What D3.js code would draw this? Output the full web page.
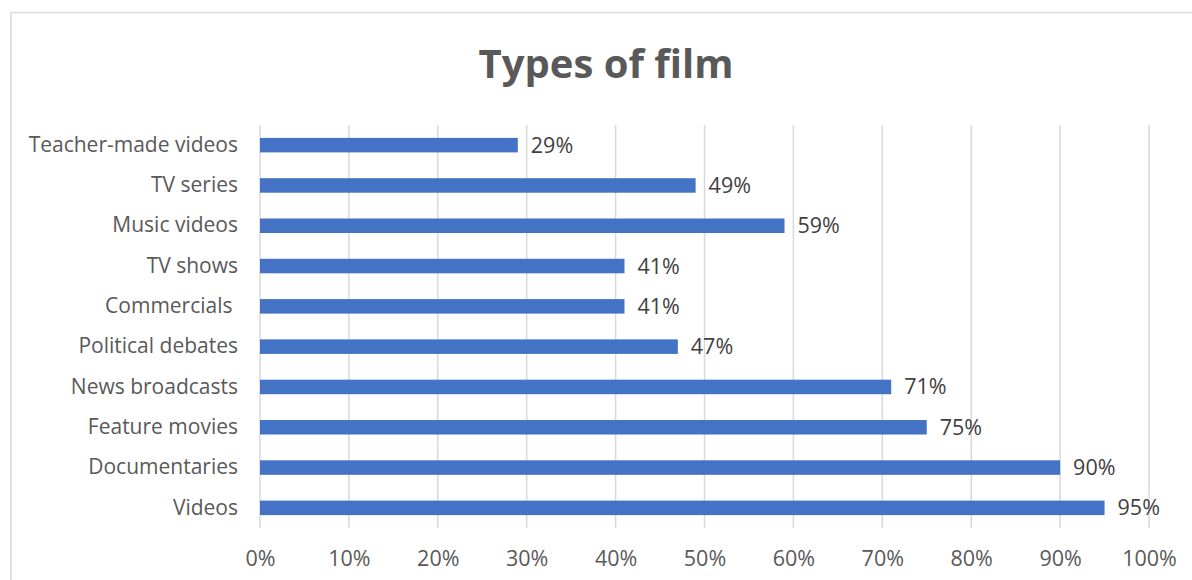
<!DOCTYPE html>
<html><head><meta charset="utf-8">
<script src="https://cdn.jsdelivr.net/npm/d3@7"></script>
<style>body{margin:0;background:#fff}svg{display:block}text{font-family:"Open Sans",sans-serif}</style>
</head><body>
<svg id="c" width="1192" height="580"></svg>
<script>
const categories = ["Teacher-made videos","TV series","Music videos","TV shows","Commercials ","Political debates","News broadcasts","Feature movies","Documentaries","Videos"];
const values = [29,49,59,41,41,47,71,75,90,95];
const tickValues = [0,10,20,30,40,50,60,70,80,90,100];
const title = "Types of film";

const svg = d3.select("#c");
svg.append("rect").attr("x",11).attr("y",12.5).attr("width",1200).attr("height",600)
  .attr("fill","#fff").attr("stroke","#d9d9d9").attr("stroke-width",1.5);

const x = d3.scaleLinear().domain([0,100]).range([260,1149]);
const y = d3.scaleBand().domain(categories).range([125,528]).paddingInner(0.64).paddingOuter(0.32);

svg.append("g").selectAll("line").data(tickValues).join("line")
  .attr("x1",d=>x(d)).attr("x2",d=>x(d)).attr("y1",125).attr("y2",528)
  .attr("stroke","#d9d9d9").attr("stroke-width",1.5);

const xAxis = svg.append("g").attr("transform","translate(0,528)")
  .call(d3.axisBottom(x).tickValues(tickValues).tickFormat(d=>d+"%").tickSize(0).tickPadding(23));
xAxis.select(".domain").remove();
xAxis.selectAll("text").attr("font-size",21.5).attr("fill","#595959").style("font-family","'Open Sans',sans-serif");

const yAxis = svg.append("g").attr("transform","translate(260,0)")
  .call(d3.axisLeft(y).tickSize(0).tickPadding(22));
yAxis.select(".domain").remove();
yAxis.selectAll("text").attr("font-size",21).attr("fill","#595959").style("font-family","'Open Sans',sans-serif").style("white-space","pre");

svg.append("g").selectAll("rect").data(values).join("rect")
  .attr("x",x(0)).attr("y",(d,i)=>y(categories[i]))
  .attr("width",d=>x(d)-x(0)).attr("height",y.bandwidth())
  .attr("fill","#4472c4");

svg.append("g").selectAll("text").data(values).join("text")
  .attr("x",d=>x(d)+13).attr("y",(d,i)=>y(categories[i])+y.bandwidth()/2)
  .attr("dy","0.35em").attr("font-size",21.5).attr("fill","#404040")
  .text(d=>d+"%");

svg.append("text").attr("x",606).attr("y",78).attr("text-anchor","middle")
  .attr("font-size",40).attr("font-weight","bold").attr("fill","#595959").text(title);
</script>
</body></html>
